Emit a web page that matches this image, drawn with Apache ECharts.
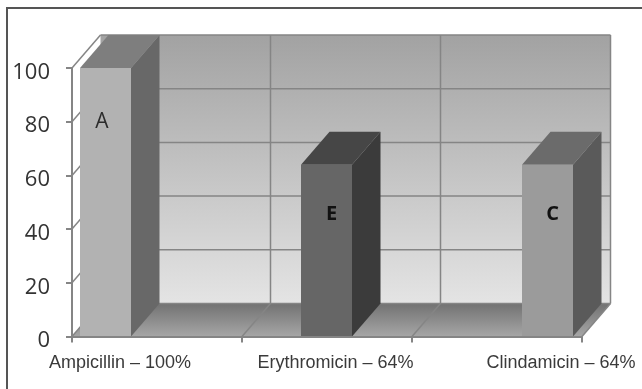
<!DOCTYPE html>
<html>
<head>
<meta charset="utf-8" />
<title>Antibiotic resistance</title>
<style type="text/css">
body, html {
	margin: 0;
	padding: 0;
	background: #fff;
}

#main {
	width: 642px;
	height: 389px;
}
</style>
</head>
<body>
	<div id="main"></div>
	<script src="https://cdn.jsdelivr.net/npm/echarts@6/dist/echarts.min.js"></script>
	<script>
		// values
		const categories = ['Ampicillin – 100%', 'Erythromicin – 64%', 'Clindamicin – 64%'];
		const values = [100, 64, 64];
		const barLetters = ['A', 'E', 'C'];
		const letterLevels = [80, 45.5, 45.5];
		const yTicks = [0, 20, 40, 60, 80, 100];

		// 3d look: how far the back wall sits from the front plane
		const DX = 28.5;
		const DY = 33;
		const GAP = 8 / 170;
		const BAR = 51 / 170;
		const LABEL_SHIFT = [-37, 8.5, 64];
		const LINE = '#858585';
		const barColors = [
			{ front: '#b2b2b2', side: '#686868', top: '#7e7e7e' },
			{ front: '#666666', side: '#3b3b3b', top: '#464646' },
			{ front: '#9b9b9b', side: '#5a5a5a', top: '#6b6b6b' }
		];

		function vgrad(a, b) {
			return new echarts.graphic.LinearGradient(0, 0, 0, 1, [
				{ offset: 0, color: a },
				{ offset: 1, color: b }
			]);
		}

		function poly(points, fill, z2) {
			return { type: 'polygon', z2: z2 || 0, shape: { points: points }, style: { fill: fill } };
		}

		function seg(a, b, width) {
			return {
				type: 'line',
				shape: { x1: a[0], y1: a[1], x2: b[0], y2: b[1] },
				style: { stroke: LINE, lineWidth: width || 1.5 }
			};
		}

		// back wall, floor and the grid lines running over them
		function renderRoom(params, api) {
			const band = api.size([1, 0])[0];
			const y0 = api.coord([0, 0])[1];
			const y100 = api.coord([0, 100])[1];
			const x0 = api.coord([0, 0])[0] - band / 2;
			const x1 = x0 + band * categories.length;
			const kids = [];
			kids.push(poly([[x0 + DX, y100 - DY], [x1 + DX, y100 - DY], [x1 + DX, y0 - DY], [x0 + DX, y0 - DY]], vgrad('#a2a2a2', '#e4e4e4')));
			kids.push(poly([[x0 + DX, y0 - DY], [x1 + DX, y0 - DY], [x1, y0], [x0, y0]], vgrad('#727272', '#a6a6a6')));
			yTicks.forEach(function (t) {
				const y = api.coord([0, t])[1];
				kids.push(seg([x0, y], [x0 + DX, y - DY]));
				kids.push(seg([x0 + DX, y - DY], [x1 + DX, y - DY]));
			});
			categories.forEach(function (c, i) {
				const x = x0 + band * (i + 1);
				kids.push(seg([x, y0], [x + DX, y0 - DY]));
				kids.push(seg([x + DX, y0 - DY], [x + DX, y100 - DY]));
			});
			return { type: 'group', children: kids };
		}

		function renderBar(params, api) {
			const i = api.value(0);
			const band = api.size([1, 0])[0];
			const w = band * BAR;
			const left = api.coord([i, 0])[0] - band / 2 + band * GAP + i * w;
			const base = api.coord([i, 0])[1];
			const top = api.coord([i, api.value(1)])[1];
			const right = left + w;
			const col = barColors[i];
			const mark = api.coord([i, api.value(2)])[1];
			return {
				type: 'group',
				children: [
					poly([[right, top], [right + DX, top - DY], [right + DX, base - DY], [right, base]], col.side),
					poly([[left, top], [left + DX, top - DY], [right + DX, top - DY], [right, top]], col.top),
					poly([[left, top], [right, top], [right, base], [left, base]], col.front),
					{
						type: 'text',
						style: {
							x: left + w * (i === 0 ? 0.43 : 0.6),
							y: mark,
							text: barLetters[i],
							align: 'center',
							verticalAlign: 'middle',
							fill: i === 0 ? '#2c2c2c' : '#111',
							font: (i === 0 ? 'normal 21px' : 'bold 20px') + ' "Open Sans"'
						}
					}
				]
			};
		}

		function renderLabel(params, api) {
			const i = api.value(0);
			const p = api.coord([i, 0]);
			return {
				type: 'text',
				style: {
					x: p[0] + LABEL_SHIFT[i],
					y: p[1] + 27,
					text: categories[i],
					align: 'center',
					verticalAlign: 'middle',
					fill: '#3a3a3a',
					font: '18px "Liberation Sans"'
				}
			};
		}

		const chart = echarts.init(document.getElementById('main'));
		chart.setOption({
			animation: false,
			backgroundColor: '#fff',
			grid: { left: 72, right: 60, top: 68, bottom: 52.5 },
			xAxis: {
				type: 'category',
				data: categories,
				z: 10,
				axisLine: { lineStyle: { color: LINE, width: 2 } },
				axisTick: { show: true, length: 6, lineStyle: { color: LINE, width: 2 } },
				axisLabel: { show: false },
				splitLine: { show: false }
			},
			yAxis: {
				type: 'value',
				min: 0,
				max: 100,
				interval: 20,
				z: 10,
				axisLine: { show: true, lineStyle: { color: LINE, width: 2 } },
				axisTick: { show: true, length: 6, lineStyle: { color: LINE, width: 2 } },
				axisLabel: { margin: 22, verticalAlign: 'top', lineHeight: 9, color: '#333', fontSize: 22, fontFamily: 'Open Sans' },
				splitLine: { show: false }
			},
			graphic: [{
				type: 'polyline',
				z: 100,
				shape: { points: [[7, 389], [7, 8], [642, 8]] },
				style: { stroke: '#555', lineWidth: 2, fill: null }
			}],
			series: [
				{ type: 'custom', z: 1, renderItem: renderRoom, data: [[0]], silent: true },
				{
					type: 'custom',
					z: 2,
					renderItem: renderBar,
					encode: { x: 0, y: 1 },
					data: values.map(function (v, i) { return [i, v, letterLevels[i]]; })
				},
				{ type: 'custom', z: 3, renderItem: renderLabel, data: categories.map(function (c, i) { return [i]; }) }
			]
		});
	</script>
</body>
</html>
